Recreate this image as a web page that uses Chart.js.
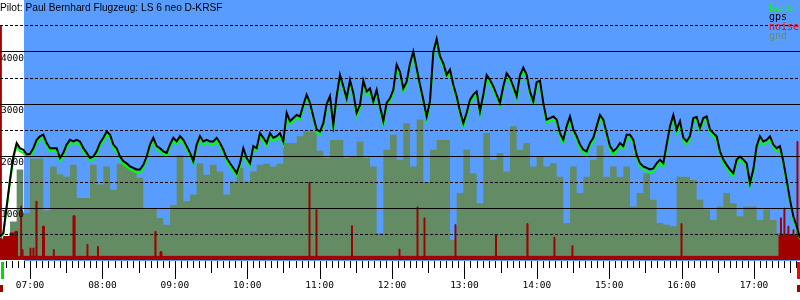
<!DOCTYPE html>
<html>
<head>
<meta charset="utf-8">
<script src="https://cdn.jsdelivr.net/npm/chart.js@4.4.1/dist/chart.umd.min.js"></script>
<style>
  body { margin: 0; background: #fff; }
  #wrap { width: 800px; height: 300px; }
</style>
</head>
<body>
<div id="wrap"><canvas id="flight"></canvas></div>
<script>
const title = 'Pilot: Paul Bernhard Flugzeug: LS 6 neo D-KRSF';

// all times in minutes after midnight
const axisStart = 395.1;
const axisEnd = 1058.1;
const hourTicks = [420, 480, 540, 600, 660, 720, 780, 840, 900, 960, 1020];
const yLabels = [1000, 2000, 3000, 4000];

const takeoff = 396.8;
const landing = 1056.4;
const blueFrom = 415;

// logger fixes (gps + baro), one every ~166 s
const logStart = 395.1;
const logStep = 2.7624;

const gps = [
  450, 520, 1030, 1540, 1990, 2250, 2150, 2120, 2030, 2040,
  2150, 2310, 2380, 2410, 2250, 2150, 2150, 2150, 1960, 2060,
  2220, 2310, 2280, 2310, 2280, 2150, 2060, 1960, 1990, 2090,
  2250, 2350, 2470, 2410, 2220, 2150, 1990, 1900, 1860, 1800,
  1770, 1740, 1740, 1830, 1990, 2220, 2350, 2190, 2150, 2090,
  2060, 2220, 2350, 2280, 2380, 2310, 2190, 2060, 1900, 2220,
  2380, 2280, 2310, 2280, 2280, 2350, 2250, 2120, 1960, 1860,
  1770, 1670, 1860, 2150, 1960, 1860, 2190, 2150, 2440, 2350,
  2250, 2440, 2350, 2380, 2440, 2280, 2830, 2670, 2730, 2790,
  2760, 2980, 3180, 3020, 2760, 2510, 2470, 2630, 3000, 3150,
  2600, 3150, 3560, 3340, 3110, 3460, 3210, 2830, 2980, 3450,
  3240, 3300, 3050, 3270, 2950, 2670, 3020, 3110, 3270, 3760,
  3620, 3300, 3430, 3780, 4010, 3690, 3370, 3080, 2760, 3050,
  4000, 4250, 3920, 3780, 3560, 3660, 3370, 3150, 2860, 2630,
  2830, 3080, 3180, 3240, 2860, 3180, 3560, 3460, 3340, 3180,
  3020, 3340, 3590, 3500, 3340, 3150, 3550, 3700, 3560, 3240,
  3050, 3420, 3450, 3020, 2700, 2730, 2760, 2700, 2440, 2310,
  2570, 2760, 2510, 2380, 2220, 2120, 2090, 2250, 2350, 2570,
  2790, 2700, 2440, 2190, 2090, 2150, 2250, 2190, 2410, 2410,
  2310, 2020, 1860, 1800, 1770, 1740, 1760, 1860, 1930, 1860,
  2220, 2570, 2790, 2510, 2670, 2350, 2280, 2380, 2730, 2750,
  2540, 2730, 2760, 2510, 2440, 2380, 2090, 1930, 1830, 1740,
  1670, 1930, 1990, 1930, 1860, 1480, 1740, 2190, 2380, 2280,
  2310, 2380, 2220, 2150, 2190, 1900, 1540, 1160, 840, 650,
  420
];

const baro = [
  430, 500, 1000, 1500, 1950, 2190, 2090, 2060, 1980, 1980,
  2090, 2250, 2320, 2350, 2190, 2090, 2100, 2090, 1900, 2000,
  2160, 2250, 2230, 2250, 2220, 2090, 2000, 1910, 1930, 2030,
  2190, 2290, 2410, 2350, 2160, 2090, 1930, 1840, 1800, 1740,
  1710, 1680, 1690, 1770, 1930, 2160, 2290, 2130, 2090, 2040,
  2000, 2160, 2290, 2230, 2320, 2250, 2130, 2000, 1850, 2160,
  2320, 2220, 2250, 2230, 2220, 2290, 2190, 2060, 1900, 1800,
  1710, 1620, 1800, 2090, 1900, 1800, 2130, 2100, 2380, 2290,
  2190, 2380, 2290, 2330, 2380, 2220, 2770, 2610, 2670, 2730,
  2700, 2920, 3120, 2960, 2700, 2450, 2410, 2570, 2940, 3090,
  2540, 3090, 3500, 3280, 3050, 3400, 3150, 2770, 2920, 3390,
  3180, 3240, 2990, 3210, 2890, 2610, 2960, 3050, 3210, 3700,
  3560, 3240, 3370, 3720, 3950, 3630, 3310, 3020, 2700, 2990,
  3940, 4190, 3860, 3720, 3500, 3600, 3310, 3090, 2800, 2570,
  2770, 3020, 3120, 3180, 2800, 3120, 3500, 3400, 3280, 3120,
  2960, 3280, 3530, 3440, 3280, 3090, 3490, 3640, 3500, 3180,
  2990, 3360, 3390, 2960, 2640, 2670, 2700, 2640, 2380, 2250,
  2510, 2700, 2450, 2320, 2160, 2060, 2030, 2190, 2290, 2510,
  2730, 2640, 2380, 2130, 2030, 2090, 2190, 2130, 2350, 2350,
  2250, 1960, 1800, 1740, 1710, 1680, 1700, 1800, 1870, 1800,
  2160, 2510, 2730, 2450, 2610, 2290, 2220, 2320, 2670, 2690,
  2480, 2670, 2700, 2450, 2380, 2320, 2030, 1870, 1770, 1680,
  1610, 1870, 1930, 1870, 1800, 1420, 1680, 2130, 2320, 2220,
  2250, 2320, 2160, 2090, 2130, 1840, 1480, 1100, 790, 600,
  400
];

// terrain under the track, every second fix
const gndStep = 5.5248;
const gnd = [
  420, 400, 740, 1740, 900, 1950, 1950, 950, 1800, 1650,
  1600, 1830, 1190, 1190, 1830, 1450, 1800, 1350, 1850, 1850,
  1750, 1580, 970, 1000, 810, 680, 1060, 2020, 1130, 1260,
  1860, 1640, 1830, 1700, 1260, 1510, 1770, 1510, 1700, 1830,
  1850, 1800, 1850, 2250, 2250, 2380, 2470, 2470, 2100, 1960,
  2310, 2310, 1960, 2000, 2280, 1960, 1800, 520, 2120, 2410,
  1930, 2630, 1800, 2700, 1500, 2120, 2310, 2310, 390, 1290,
  2120, 1670, 1090, 2440, 1930, 2060, 1700, 2570, 2120, 2250,
  1800, 1990, 1800, 1860, 1600, 710, 1800, 1290, 1600, 1930,
  2200, 1600, 1800, 1600, 1800, 1030, 1290, 1670, 1160, 710,
  680, 650, 1600, 1600, 1540, 1160, 970, 770, 1030, 1290,
  1090, 840, 1030, 1030, 770, 970, 770, 520, 520, 480, 450
];

// engine noise level, each value holds until the next time
const noiseTimes = [
  395.1, 396.2, 397.9, 403.4, 407.5, 409.6, 412.3, 412.9, 413.3, 414.2,
  420.0, 420.8, 422.4, 423.3, 424.9, 425.8, 430.3, 432.0, 439.3, 440.1,
  455.6, 457.3, 467.2, 468.0, 475.9, 476.7, 523.5, 524.4, 527.7, 529.3,
  651.2, 652.0, 657.0, 657.8, 686.4, 687.2, 725.8, 726.6, 740.7, 741.5,
  746.5, 747.3, 772.2, 773.0, 805.7, 806.6, 831.8, 832.7, 854.2, 855.0,
  869.1, 869.9, 959.5, 960.3, 1040.7, 1041.9, 1042.7, 1044.8, 1045.6, 1048.1,
  1048.9, 1052.3, 1053.1, 1055.6, 1056.4, 1058.1
];
const noiseValues = [
  4500, 390, 450, 520, 550, 70, 1040, 70, 200, 70,
  230, 70, 230, 70, 1130, 70, 650, 70, 200, 70,
  850, 70, 300, 70, 260, 70, 550, 70, 160, 70,
  1490, 70, 970, 70, 660, 70, 210, 70, 1020, 70,
  810, 70, 680, 70, 490, 70, 700, 70, 440, 70,
  275, 70, 700, 70, 480, 810, 480, 1000, 480, 650,
  480, 580, 480, 2280, 480, 0
];

const toPoints = (vals, t0, dt) => vals.map((v, i) => ({ x: t0 + i * dt, y: v }));
const hhmm = (m) => String(Math.floor(m / 60)).padStart(2, '0') + ':' + String(Math.round(m % 60)).padStart(2, '0');

const monoFont = { family: '"DejaVu Sans Mono", monospace', size: 9.5 };

const background = {
  id: 'background',
  beforeDatasetsDraw(chart) {
    const { ctx, chartArea } = chart;
    const x0 = chart.scales.x.getPixelForValue(blueFrom);
    ctx.save();
    ctx.fillStyle = '#599cff';
    ctx.fillRect(x0, chartArea.top, chartArea.right - x0, chartArea.bottom - chartArea.top + 1);
    ctx.restore();
  }
};

const decorations = {
  id: 'decorations',
  afterDraw(chart) {
    const { ctx, chartArea } = chart;
    const xs = chart.scales.x;
    const bottom = chartArea.bottom;
    ctx.save();

    // 5 minute ticks, longer at half hours and hours
    ctx.strokeStyle = '#000';
    ctx.lineWidth = 1;
    for (let t = Math.ceil(axisStart / 5) * 5; t <= axisEnd; t += 5) {
      const len = t % 60 === 0 ? 18 : (t % 30 === 0 ? 12 : 7);
      const x = Math.round(xs.getPixelForValue(t)) + 0.5;
      ctx.beginPath();
      ctx.moveTo(x, bottom + 1);
      ctx.lineTo(x, bottom + 1 + len);
      ctx.stroke();
    }

    // takeoff / landing markers
    const tx = Math.round(xs.getPixelForValue(takeoff));
    const lx = Math.round(xs.getPixelForValue(landing));
    ctx.fillStyle = '#00dd00';
    ctx.fillRect(tx - 1, bottom + 2, 3, 17);
    ctx.fillStyle = '#ff0000';
    ctx.fillRect(lx - 1, bottom + 2, 3, 17);
    ctx.fillStyle = '#a00000';
    ctx.fillRect(tx - 2, bottom + 25, 3, 7);
    ctx.fillRect(lx - 1, bottom + 25, 3, 7);

    // title
    ctx.fillStyle = '#000';
    ctx.font = '10.2px "Liberation Sans", Arial, sans-serif';
    ctx.textBaseline = 'alphabetic';
    ctx.fillText(title, 0, 11);

    // legend
    ctx.font = '10px "DejaVu Sans Mono", monospace';
    const order = ['baro', 'gps', 'noise', 'gnd'];
    order.forEach((name, i) => {
      const ds = chart.data.datasets.find(d => d.label === name);
      ctx.fillStyle = ds.legendColor;
      ctx.fillText(name, 769, 11 + i * 9.4);
    });
    ctx.restore();
  }
};

new Chart(document.getElementById('flight'), {
  type: 'line',
  data: {
    datasets: [
      {
        label: 'gps',
        data: toPoints(gps, logStart, logStep),
        borderColor: '#000000',
        legendColor: '#000000',
        borderWidth: 2,
        pointRadius: 0,
        fill: false
      },
      {
        label: 'baro',
        data: toPoints(baro, logStart, logStep),
        borderColor: '#00ff00',
        legendColor: '#00ff00',
        borderWidth: 2,
        pointRadius: 0,
        fill: false
      },
      {
        label: 'noise',
        data: noiseTimes.map((t, i) => ({ x: t, y: noiseValues[i] })),
        borderColor: '#a00000',
        backgroundColor: '#a00000',
        legendColor: '#ff0000',
        borderWidth: 1,
        pointRadius: 0,
        stepped: true,
        fill: 'origin'
      },
      {
        label: 'gnd',
        data: toPoints(gnd, logStart, gndStep),
        borderColor: '#648c64',
        backgroundColor: '#648c64',
        legendColor: '#648c64',
        borderWidth: 0,
        pointRadius: 0,
        stepped: 'middle',
        fill: 'origin'
      }
    ]
  },
  options: {
    responsive: true,
    maintainAspectRatio: false,
    animation: false,
    layout: { padding: 0 },
    plugins: {
      legend: { display: false },
      tooltip: { enabled: false }
    },
    scales: {
      x: {
        type: 'linear',
        min: axisStart,
        max: axisEnd,
        afterBuildTicks: (scale) => { scale.ticks = hourTicks.map(v => ({ value: v })); },
        afterFit: (scale) => { scale.height = 40; scale.paddingLeft = 0; scale.paddingRight = 0; },
        grid: { display: false, drawTicks: false },
        border: { display: false },
        ticks: {
          autoSkip: false,
          maxRotation: 0,
          padding: 20,
          color: '#000',
          font: monoFont,
          callback: (v) => hhmm(v)
        }
      },
      y: {
        min: 0,
        max: 5000,
        position: 'left',
        afterFit: (scale) => { scale.width = 0; scale.paddingTop = 0; scale.paddingBottom = 0; },
        border: { display: false },
        grid: {
          z: 1,
          drawTicks: false,
          color: (c) => (c.tick && (c.tick.value === 0 || c.tick.value === 5000)) ? 'rgba(0,0,0,0)' : '#000',
          lineWidth: 1
        },
        ticks: {
          z: 2,
          stepSize: 1000,
          mirror: true,
          padding: 1,
          labelOffset: 7,
          color: '#000',
          font: monoFont,
          callback: (v) => yLabels.includes(v) ? String(v) : ''
        }
      },
      y2: {
        min: 0,
        max: 5000,
        position: 'right',
        afterFit: (scale) => { scale.width = 0; scale.paddingTop = 0; scale.paddingBottom = 0; },
        border: { display: false, dash: [3, 2] },
        grid: {
          z: 1,
          drawTicks: false,
          color: (c) => (c.tick && c.tick.value % 1000 !== 0) ? '#000' : 'rgba(0,0,0,0)',
          lineWidth: 1
        },
        ticks: { stepSize: 500, display: false }
      }
    }
  },
  plugins: [background, decorations]
});
</script>
</body>
</html>
